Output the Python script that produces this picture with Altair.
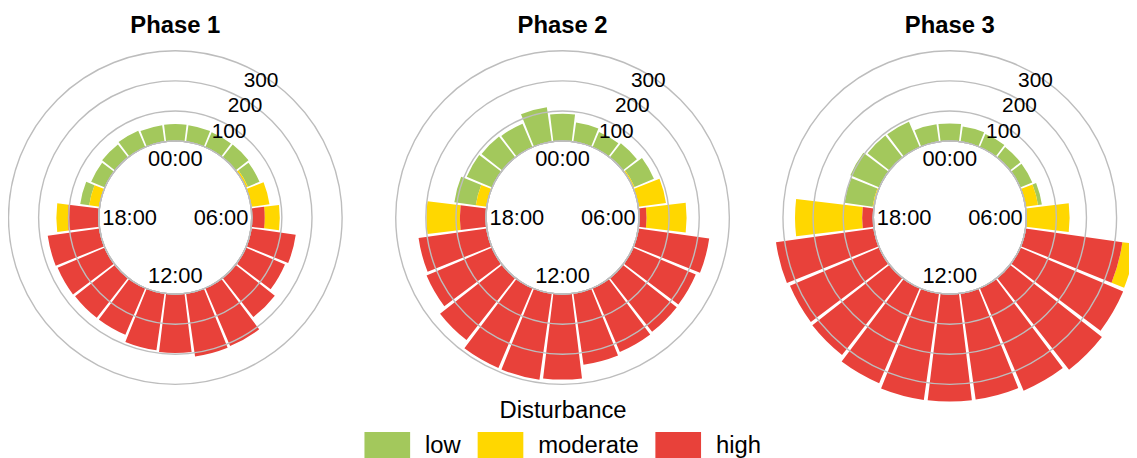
import math
import altair as alt
import pandas as pd

# ---------------- data ----------------
phases = ["Phase 1", "Phase 2", "Phase 3"]
levels = ["low", "moderate", "high"]
level_colors = ["#a3c85c", "#ffd700", "#e8413a"]
hours = list(range(24))

p1_low  = [57, 56, 54, 55, 42, 0, 0, 0, 0, 0, 0, 0, 0, 0, 0, 0, 0, 0, 0, 30, 50, 55, 60, 56]
p1_mod  = [0, 0, 0, 0, 8, 62, 50, 0, 0, 0, 0, 0, 0, 0, 0, 0, 0, 0, 38, 35, 0, 0, 0, 0]
p1_high = [0, 0, 0, 0, 0, 0, 43, 150, 142, 166, 210, 212, 196, 191, 169, 169, 171, 174, 103, 0, 0, 0, 0, 0]

p2_low  = [91, 65, 55, 60, 70, 0, 0, 0, 0, 0, 0, 0, 0, 0, 0, 0, 0, 0, 0, 72, 92, 88, 85, 116]
p2_mod  = [0, 0, 0, 0, 6, 93, 133, 0, 0, 0, 0, 0, 0, 0, 0, 0, 0, 0, 111, 37, 0, 0, 0, 0]
p2_high = [0, 0, 0, 0, 0, 0, 25, 238, 227, 228, 231, 240, 284, 290, 289, 263, 237, 229, 87, 0, 0, 0, 0, 0]

p3_low  = [59, 52, 48, 44, 44, 13, 0, 0, 0, 0, 0, 0, 0, 0, 0, 0, 0, 0, 0, 94, 105, 93, 92, 59]
p3_mod  = [0, 0, 0, 0, 0, 42, 144, 45, 0, 0, 0, 0, 0, 0, 0, 0, 0, 0, 223, 5, 0, 0, 0, 0]
p3_high = [0, 0, 0, 0, 0, 0, 0, 325, 372, 388, 371, 356, 357, 358, 344, 326, 323, 329, 37, 0, 0, 0, 0, 0]

series = {
    "Phase 1": {"low": p1_low, "moderate": p1_mod, "high": p1_high},
    "Phase 2": {"low": p2_low, "moderate": p2_mod, "high": p2_high},
    "Phase 3": {"low": p3_low, "moderate": p3_mod, "high": p3_high},
}

tick_hours = [0, 6, 12, 18]
tick_labels = ["00:00", "06:00", "12:00", "18:00"]
grid_values = [0, 100, 200, 300]
grid_labels = [100, 200, 300]

# ---------------- tables ----------------
stack_order = {"high": 0, "moderate": 1, "low": 2}
rows = []
for p in phases:
    for lvl in levels:
        for h, v in zip(hours, series[p][lvl]):
            if v > 0:
                rows.append({"phase": p, "hour": h, "level": lvl, "value": v, "order": stack_order[lvl]})
bars_df = pd.DataFrame(rows)

grid_df = pd.DataFrame([{"phase": p, "g": g} for p in phases for g in grid_values])
glab_df = pd.DataFrame([{"phase": p, "g": g, "label": str(g)} for p in phases for g in grid_labels])
tick_df = pd.DataFrame([{"phase": p, "hour": h, "label": l} for p in phases for h, l in zip(tick_hours, tick_labels)])
title_df = pd.DataFrame({"phase": phases})

# ---------------- scales ----------------
FONT = "Liberation Sans, Arial, Helvetica, sans-serif"
x_scale = alt.Scale(type="point", domain=phases, range=[168.5, 948.5], padding=0)
X = alt.X("phase:N", scale=x_scale, axis=None)
Y = alt.value(209.5)
theta_scale = alt.Scale(domain=[0, 24], range=[0, 2 * math.pi], nice=False, zero=False)
radius_scale = alt.Scale(type="linear", domain=[0, 300], range=[77, 168], nice=False, zero=False)

bars = (
    alt.Chart(bars_df)
    .transform_stack(
        stack="value",
        groupby=["phase", "hour"],
        sort=[alt.SortField("order", order="ascending")],
        as_=["v0", "v1"],
    )
    .transform_calculate(t0="datum.hour - 0.46", t1="datum.hour + 0.46")
    .mark_arc()
    .encode(
        x=X,
        y=Y,
        theta=alt.Theta("t0:Q", scale=theta_scale, stack=False),
        theta2="t1:Q",
        radius=alt.Radius("v1:Q", scale=radius_scale, stack=False),
        radius2="v0:Q",
        color=alt.Color(
            "level:N",
            scale=alt.Scale(domain=levels, range=level_colors),
            legend=alt.Legend(
                title="Disturbance",
                orient="none",
                legendX=359,
                legendY=392,
                direction="horizontal",
                columns=3,
                titleAnchor="middle",
                titleAlign="center",
                titleFont=FONT,
                titleFontSize=24,
                titleFontWeight="normal",
                titleColor="#000000",
                titlePadding=0,
                labelFont=FONT,
                labelFontSize=24,
                labelColor="#000000",
                labelOffset=15,
                columnPadding=16,
                symbolType="M-1,-0.6H1V0.6H-1Z",
                symbolSize=2116,
                symbolStrokeWidth=0,
                symbolOpacity=1,
                padding=0,
            ),
        ),
    )
)

grid = (
    alt.Chart(grid_df)
    .mark_arc(filled=False, stroke="#bdbdbd", strokeWidth=1.4)
    .encode(
        x=X,
        y=Y,
        theta=alt.value(0),
        theta2=alt.value(2 * math.pi),
        radius=alt.Radius("g:Q", scale=radius_scale, stack=False),
    )
)

grid_text = (
    alt.Chart(glab_df)
    .transform_calculate(rr="datum.g - 18")
    .mark_text(font=FONT, fontSize=21, color="#000000", align="center", baseline="middle")
    .encode(
        x=X,
        y=Y,
        theta=alt.value(0.56),
        radius=alt.Radius("rr:Q", scale=radius_scale, stack=False),
        text="label:N",
    )
)

tick_v = (
    alt.Chart(tick_df)
    .transform_filter("datum.hour % 12 == 0")
    .mark_text(font=FONT, fontSize=22, color="#000000", align="center", baseline="middle")
    .encode(
        x=X,
        y=Y,
        theta=alt.Theta("hour:Q", scale=theta_scale, stack=False),
        radius=alt.value(58.5),
        text="label:N",
    )
)

tick_h = (
    alt.Chart(tick_df)
    .transform_filter("datum.hour % 12 != 0")
    .mark_text(font=FONT, fontSize=22, color="#000000", align="center", baseline="middle")
    .encode(
        x=X,
        y=Y,
        theta=alt.Theta("hour:Q", scale=theta_scale, stack=False),
        radius=alt.value(46),
        text="label:N",
    )
)

titles = (
    alt.Chart(title_df)
    .mark_text(font=FONT, fontSize=24, fontWeight="bold", color="#000000", align="center", baseline="alphabetic")
    .encode(x=X, y=alt.value(24), text="phase:N")
)

chart = (
    alt.layer(bars, grid, grid_text, tick_v, tick_h, titles)
    .properties(width=1129, height=450, autosize=alt.AutoSizeParams(type="none"), padding=0)
    .configure_view(strokeWidth=0)
)

chart.save("out.html", embed_options={"renderer": "svg", "actions": False})
